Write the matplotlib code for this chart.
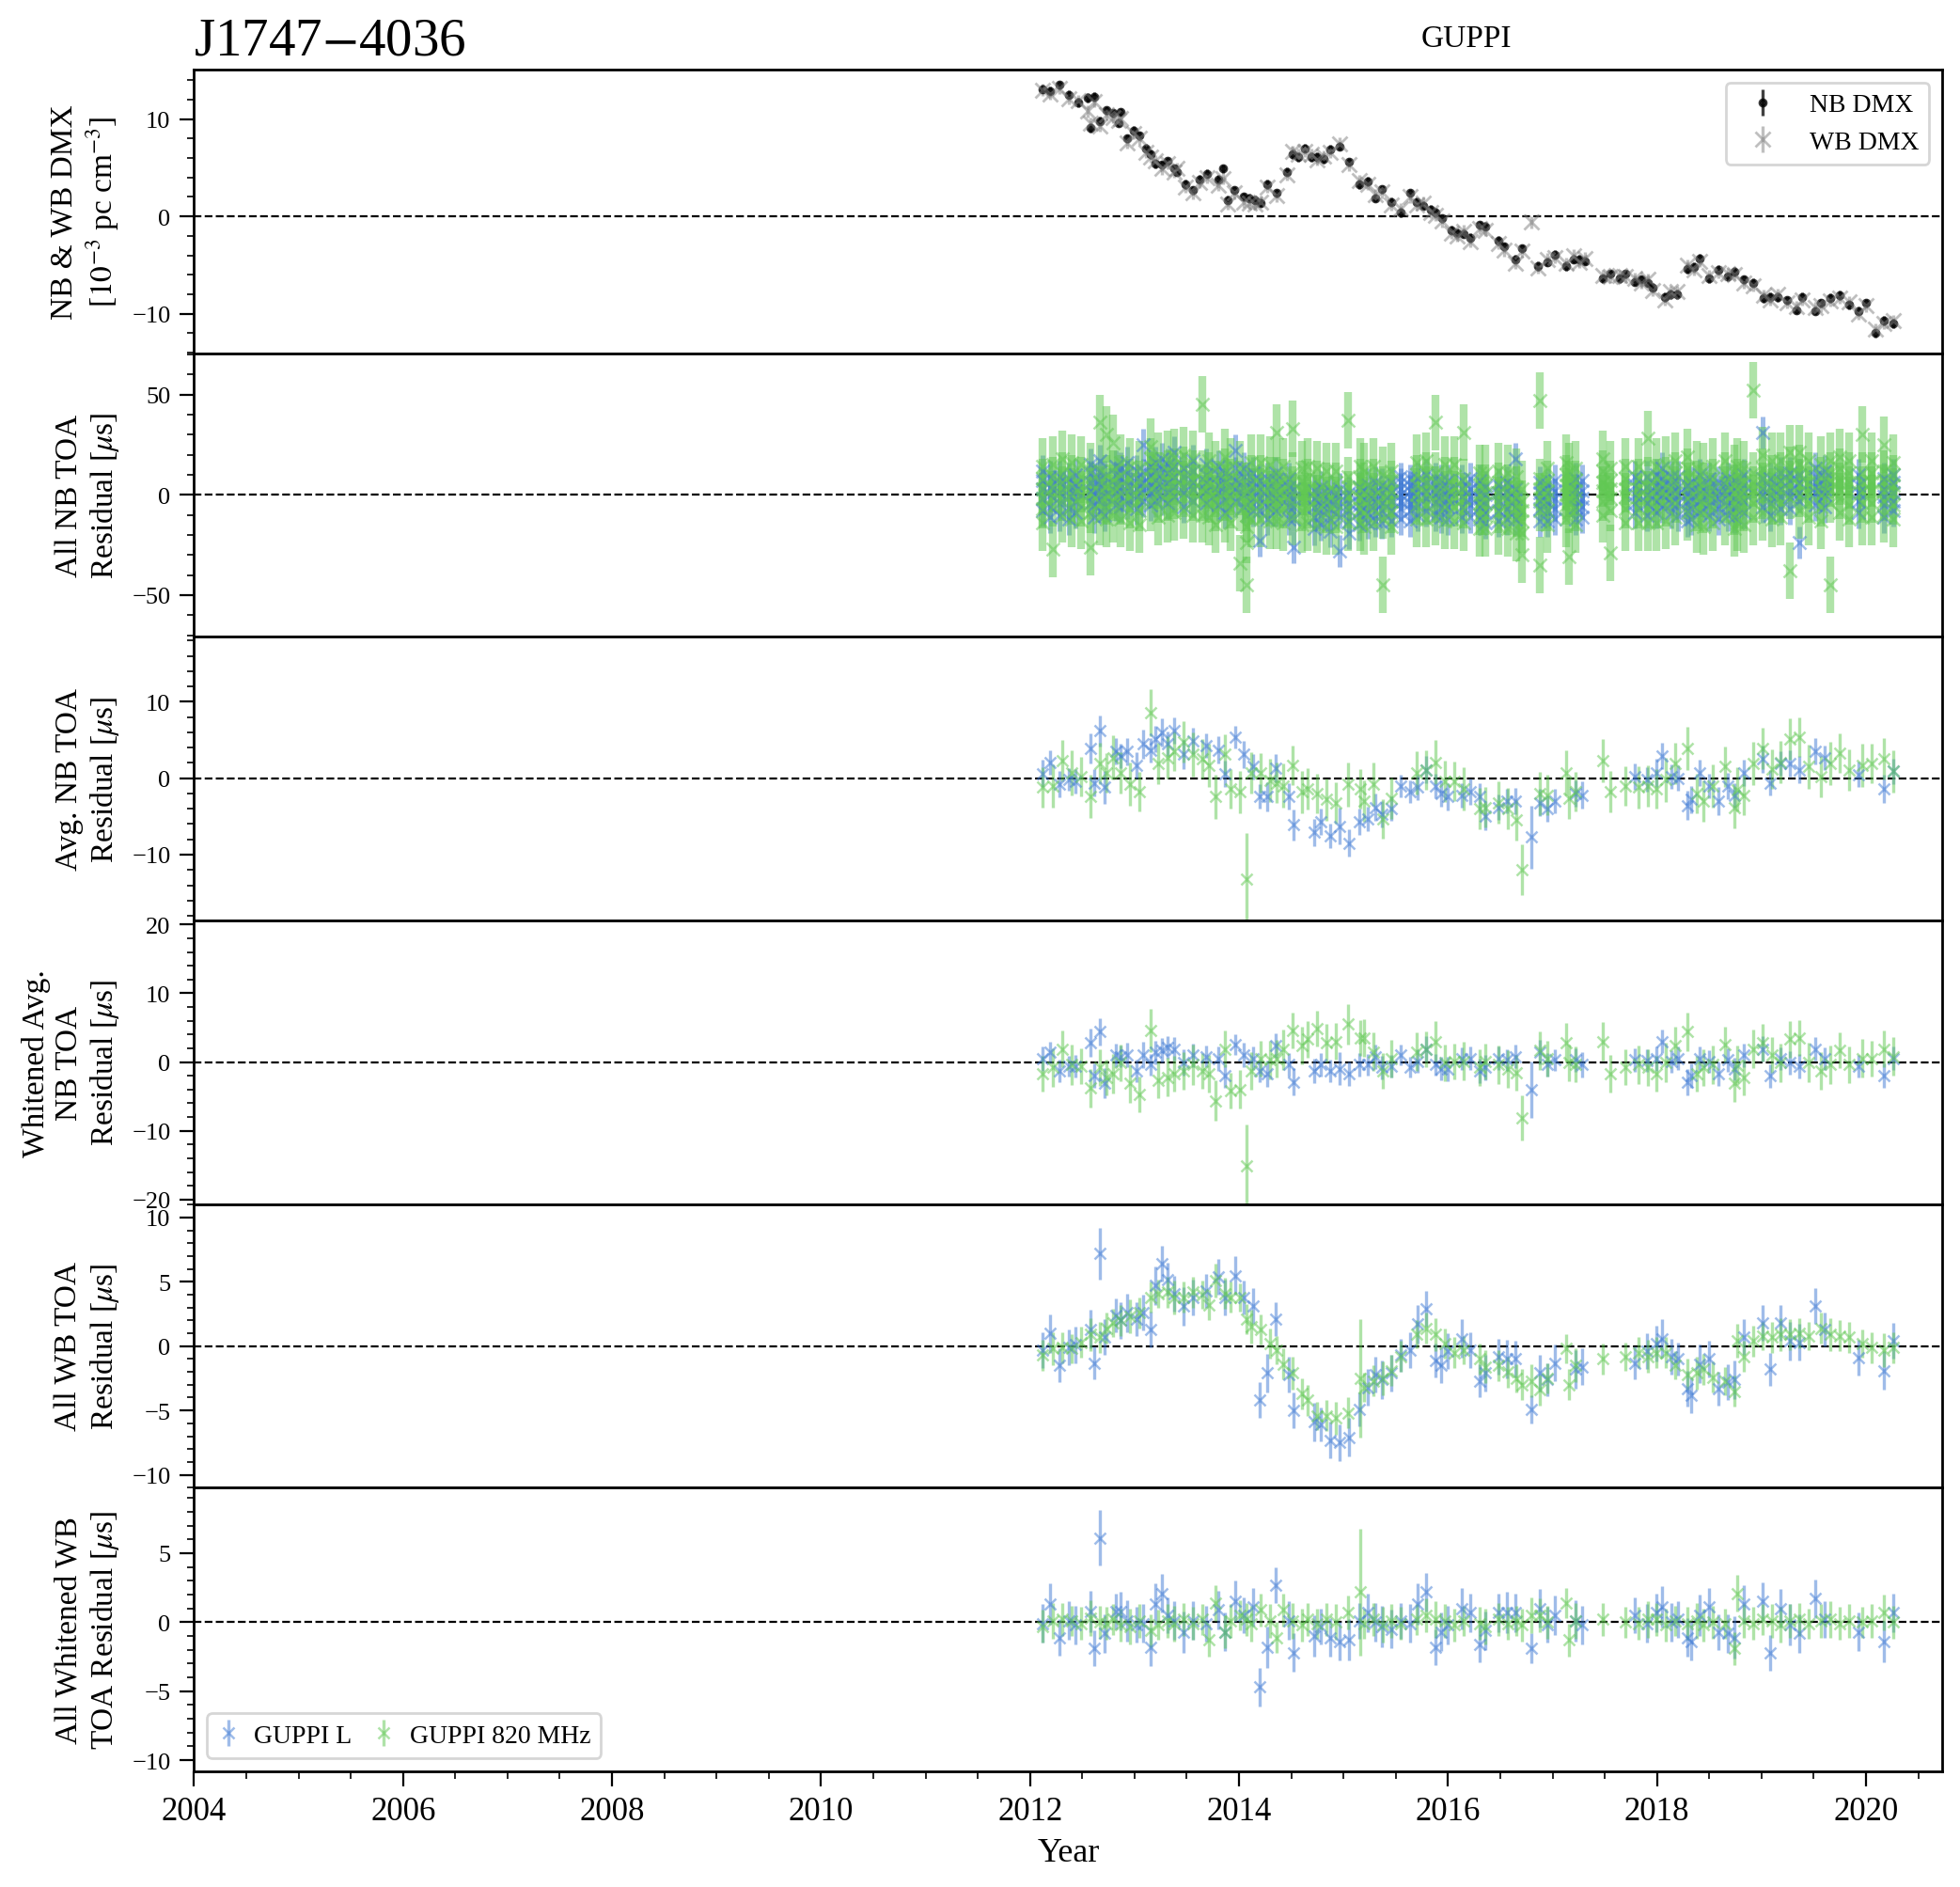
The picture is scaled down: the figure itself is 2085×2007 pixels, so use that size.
import numpy as np
import matplotlib
matplotlib.use("Agg")
import matplotlib.pyplot as plt
from matplotlib.ticker import AutoMinorLocator, MultipleLocator

plt.rcParams["font.family"] = ["Liberation Serif", "DejaVu Serif"]
plt.rcParams["mathtext.fontset"] = "stix"
plt.rcParams["axes.linewidth"] = 1.0

nan = np.nan
L_COLOR = "#407BD5"
R800_COLOR = "#61C853"

# ---------------- DMX (panel 1) ----------------
dmx_year = [
    2012.12, 2012.19, 2012.28, 2012.37, 2012.46, 2012.55, 2012.58, 2012.61, 2012.67, 2012.73,
    2012.79, 2012.85, 2012.87, 2012.93, 2012.99, 2013.05, 2013.11, 2013.15, 2013.20, 2013.26,
    2013.32, 2013.38, 2013.41, 2013.49, 2013.56, 2013.62, 2013.69, 2013.80, 2013.85, 2013.89,
    2013.95, 2014.04, 2014.10, 2014.15, 2014.21, 2014.27, 2014.36, 2014.46, 2014.51, 2014.57,
    2014.63, 2014.69, 2014.75, 2014.81, 2014.87, 2014.96, 2015.05, 2015.15, 2015.23, 2015.30,
    2015.37, 2015.46, 2015.55, 2015.64, 2015.70, 2015.76, 2015.83, 2015.88, 2015.94, 2016.03,
    2016.09, 2016.15, 2016.21, 2016.30, 2016.36, 2016.48, 2016.54, 2016.64, 2016.71, 2016.80,
    2016.86, 2016.95, 2017.02, 2017.13, 2017.20, 2017.26, 2017.31, 2017.48, 2017.55, 2017.64,
    2017.70, 2017.79, 2017.85, 2017.91, 2017.96, 2018.07, 2018.13, 2018.19, 2018.29, 2018.35,
    2018.41, 2018.50, 2018.59, 2018.68, 2018.74, 2018.83, 2018.92, 2019.02, 2019.08, 2019.15,
    2019.24, 2019.33, 2019.39, 2019.51, 2019.57, 2019.66, 2019.75, 2019.84, 2019.93, 2020.00,
    2020.09, 2020.17, 2020.26,
]
nb_dmx = [
    13.1, 12.9, 13.5, 12.5, 11.7, 12.2, 9.1, 12.3, 9.8, 10.9,
    10.6, 9.6, 10.7, 8.0, 8.8, 8.3, 7.0, 6.4, 5.4, 5.3,
    5.7, 4.9, 4.6, 3.3, 2.7, 3.8, 4.4, 3.8, 4.9, 1.7,
    2.7, 2.0, 1.9, 1.7, 1.4, 3.3, 2.4, 4.6, 6.4, 6.1,
    7.0, 6.1, 6.1, 5.9, 6.9, 7.2, 5.6, 3.3, 3.6, 1.9,
    2.8, 1.5, 0.4, 2.4, 1.5, 1.1, 0.7, 0.4, -0.2, -1.4,
    -1.7, -1.8, -2.2, -0.9, -1.0, -2.5, -3.1, -4.4, -3.3, nan,
    -5.1, -4.7, -3.9, -5.1, -4.4, -4.4, -4.6, -6.4, -5.9, -6.4,
    -5.9, -6.7, -6.5, -6.8, -7.3, -8.3, -8.0, -8.0, -5.4, -5.2,
    -4.3, -6.4, -5.5, -6.2, -5.7, -6.5, -6.8, -8.4, -8.3, -8.3,
    -8.6, -9.6, -8.3, -9.7, -8.9, -8.4, -8.1, -9.1, -9.7, -8.9,
    -12.0, -10.7, -11.0,
]
wb_dmx = [
    13.0, 12.6, 13.2, 12.1, 11.9, 10.8, 9.6, 11.8, 9.3, 10.5,
    10.2, 9.9, 10.1, 7.6, 8.5, 8.0, 6.6, 6.1, 5.7, 4.9,
    5.4, 4.6, 4.9, 3.0, 2.4, 3.5, 4.0, 3.2, 3.9, 1.3,
    2.4, 1.5, 1.4, 1.3, 1.5, 3.0, 2.1, 4.3, 6.7, 6.4,
    6.7, 6.4, 5.8, 6.2, 6.6, 7.5, 5.3, 3.7, 3.3, 2.2,
    2.5, 1.2, 0.8, 2.0, 1.2, 1.4, 0.4, 0.1, -0.5, -1.7,
    -2.0, -1.5, -2.6, -1.2, -1.4, -2.8, -3.5, -4.8, -3.6, -0.6,
    -5.3, -4.4, -4.2, -4.8, -4.0, -4.7, -4.3, -6.1, -6.2, -6.1,
    -6.2, -6.4, -6.8, -6.5, -7.6, -8.6, -7.7, -7.7, -5.0, -5.5,
    -4.6, -6.1, -5.8, -5.9, -6.0, -6.8, -7.1, -8.1, -8.6, -8.0,
    -8.9, -9.3, -8.6, -9.4, -9.2, -8.7, -8.4, -8.8, -10.0, -9.2,
    -11.6, -11.0, -10.7,
]
nb_dmx_err = 0.45
wb_dmx_err = 0.6

# ---------------- GUPPI L epochs ----------------
L_year = [
    2012.12, 2012.19, 2012.28, 2012.37, 2012.43, 2012.58, 2012.61, 2012.67, 2012.71, 2012.82,
    2012.87, 2012.93, 2013.02, 2013.08, 2013.15, 2013.20, 2013.26, 2013.32, 2013.38, 2013.47,
    2013.56, 2013.68, 2013.80, 2013.86, 2013.96, 2014.04, 2014.13, 2014.20, 2014.27, 2014.35,
    2014.48, 2014.52, 2014.72, 2014.78, 2014.87, 2014.96, 2015.05, 2015.15, 2015.23, 2015.30,
    2015.37, 2015.46, 2015.55, 2015.64, 2015.71, 2015.79, 2015.88, 2015.93, 2016.00, 2016.13,
    2016.21, 2016.30, 2016.36, 2016.48, 2016.56, 2016.64, 2016.80, 2016.88, 2016.95, 2017.02,
    2017.22, 2017.28, 2017.79, 2017.90, 2017.99, 2018.05, 2018.14, 2018.20, 2018.29, 2018.33,
    2018.41, 2018.50, 2018.59, 2018.68, 2018.74, 2018.83, 2019.01, 2019.08, 2019.18, 2019.27,
    2019.36, 2019.51, 2019.60, 2019.93, 2020.17, 2020.26,
]
L_avg = [
    0.6, 2.1, -0.8, -0.2, -0.4, 3.9, -0.6, 6.2, -1.2, 3.5,
    2.9, 3.5, 1.7, 4.5, 3.7, 5.1, 6.0, 4.5, 6.2, 3.1,
    4.9, 4.3, 3.7, 0.6, 5.4, 3.1, 1.5, -2.4, -2.4, 1.3,
    -2.4, -6.1, -7.1, -5.7, -7.5, -6.3, -8.5, -5.7, -5.3, -3.8,
    -4.7, -4.0, -1.0, -1.8, -1.2, 1.1, -1.0, -2.0, -2.4, -2.2,
    -1.8, -2.4, -4.9, -3.8, -3.0, -3.0, -7.7, -3.2, -4.0, -3.0,
    -2.0, -2.2, 0.2, -0.2, 0.7, 2.9, 0.2, 0.0, -3.6, -2.8,
    0.7, -1.0, -3.0, -1.0, -2.2, 0.7, 2.5, -0.6, 1.9, 1.9,
    1.1, 3.5, 2.7, 0.5, -1.4, 0.9,
]
L_avg_white = [
    0.5, 1.4, -1.3, -0.6, -0.6, 2.8, -2.0, 4.4, -3.1, 1.0,
    0.8, 1.0, -1.3, 1.0, -0.4, 1.4, 1.7, 2.1, 1.9, -0.1,
    1.0, 0.8, 0.5, -2.0, 2.6, 1.0, 0.5, -1.3, -1.7, 2.4,
    -0.4, -2.9, -1.3, -0.4, -1.3, -1.0, -1.7, -0.4, -0.4, 0.8,
    -0.8, -0.6, 1.0, -0.8, 0.1, 1.9, -0.4, -1.0, -1.0, 0.5,
    0.5, -1.3, -0.8, 0.5, 0.3, 0.8, -4.0, 1.4, -0.4, 0.3,
    0.3, -0.4, 0.3, 0.2, 0.5, 3.0, 0.1, 0.5, -2.9, -2.0,
    0.5, 0.1, -1.7, 0.3, -1.0, 1.0, 1.9, -2.0, 0.5, -0.1,
    -0.6, 1.9, 0.5, -0.6, -2.0, 0.5,
]
L_avg_err = [
    1.8, 1.6, 1.7, 1.5, 1.6, 2.0, 1.8, 2.0, 2.2, 1.7,
    1.6, 1.8, 1.7, 1.9, 1.6, 1.7, 1.8, 1.6, 1.7, 1.9,
    1.7, 1.6, 1.8, 1.7, 1.5, 1.8, 1.7, 1.6, 1.9, 1.8,
    1.7, 2.0, 1.8, 1.7, 1.6, 2.4, 1.8, 1.7, 1.6, 1.8,
    1.7, 1.6, 1.5, 1.5, 1.7, 1.8, 1.6, 1.7, 1.8, 1.6,
    1.7, 1.8, 1.9, 1.7, 1.6, 1.7, 4.1, 1.8, 1.7, 1.6,
    1.7, 1.8, 1.7, 1.6, 1.8, 1.7, 1.6, 1.7, 1.9, 1.8,
    1.7, 1.6, 1.8, 1.7, 1.6, 1.7, 1.8, 1.7, 1.6, 1.7,
    1.8, 1.7, 1.6, 1.7, 1.8, 1.7,
]
L_wb = [
    -0.3, 1.0, -1.5, -0.1, 0.1, 1.3, -1.3, 7.2, 0.7, 2.4,
    2.0, 2.6, 2.1, 2.6, 1.3, 4.7, 6.4, 5.2, 4.1, 3.1,
    3.8, 4.3, 5.4, 3.8, 5.5, 3.8, 3.1, -4.2, -2.1, 2.1,
    -2.2, -5.0, -5.9, -6.1, -7.3, -7.5, -7.1, -4.9, -3.2, -2.2,
    -2.6, -2.1, -0.7, -0.3, 1.7, 2.9, -1.1, -1.5, -0.4, 0.6,
    -0.3, -2.7, -2.1, -0.8, -1.0, -1.0, -4.9, -2.1, -2.6, -1.3,
    -1.8, -1.6, -1.3, -0.4, 0.2, 0.6, -0.8, -1.0, -3.3, -3.8,
    -1.4, -1.0, -3.3, -2.8, -2.6, 0.7, 1.8, -1.8, 1.8, 0.4,
    0.3, 3.1, 1.3, -0.9, -1.9, 0.4,
]
L_wb_white = [
    -0.1, 1.3, -1.1, 0.1, -0.2, 0.8, -1.9, 6.1, -0.8, 0.8,
    0.8, 0.1, -0.2, -0.1, -1.8, 1.3, 2.1, 0.5, 0.1, -0.7,
    0.1, -0.1, 0.9, -0.7, 1.5, 0.5, 1.1, -4.7, -1.8, 2.7,
    0.1, -2.2, -1.0, -0.3, -1.1, -1.4, -1.3, 0.1, 0.7, 0.0,
    -0.3, -0.5, 0.1, -0.1, 1.3, 2.2, -1.8, -0.7, -0.2, 1.0,
    0.7, -1.6, -0.6, 0.7, 0.7, 0.7, -1.9, 1.0, -0.2, 0.5,
    0.1, -0.2, 0.5, -0.1, 0.7, 1.1, 0.0, 0.2, -1.1, -1.4,
    0.5, 1.1, -0.7, -0.8, -1.1, 1.3, 1.5, -2.2, 1.0, -0.2,
    -0.8, 1.7, 0.2, -0.7, -1.4, 0.7,
]
L_wb_err = [
    1.4, 1.5, 1.3, 1.4, 1.4, 1.5, 1.3, 2.0, 1.4, 1.3,
    1.4, 1.5, 1.3, 1.4, 1.4, 1.5, 1.4, 1.3, 1.4, 1.5,
    1.4, 1.3, 1.4, 1.4, 1.5, 1.3, 1.4, 1.4, 1.5, 1.3,
    1.4, 1.4, 1.5, 1.3, 1.4, 1.4, 1.5, 1.3, 1.4, 1.4,
    1.5, 1.4, 1.3, 1.4, 1.5, 1.4, 1.3, 1.4, 1.4, 1.5,
    1.4, 1.3, 1.4, 1.4, 1.5, 1.4, 1.1, 1.4, 1.3, 1.4,
    1.5, 1.4, 1.3, 1.4, 1.4, 1.5, 1.4, 1.3, 1.4, 1.4,
    1.5, 1.4, 1.3, 1.4, 1.5, 1.4, 1.4, 1.3, 1.4, 1.5,
    1.4, 1.4, 1.3, 1.4, 1.5, 1.4,
]
# narrowband TOA residuals per L epoch (one list per epoch)
L_nb_res = [
    [-8, -2, 3, 7, 12], [-11, -6, 0, 4, 9], [-10, -4, 1, 6, 9], [-12, -7, -1, 3, 8], [-9, -3, 2, 5, 10],
    [-4, 2, 6, 11, 15], [-11, -5, 0, 4, 8], [-2, 4, 8, 12, 17], [-10, -6, -1, 3, 9], [-5, 1, 5, 10, 14],
    [-6, 0, 4, 9, 13], [-4, 2, 5, 11, 16], [-7, -1, 3, 8, 12], [-3, 3, 6, 12, 25], [-5, 1, 5, 10, 14],
    [-3, 3, 7, 12, 16], [-2, 4, 8, 13, 18], [-4, 2, 6, 11, 15], [-1, 4, 9, 14, 21], [-6, 1, 4, 9, 13],
    [-3, 3, 6, 12, 17], [-4, 2, 6, 10, 15], [-5, 1, 5, 10, 14], [-9, -3, 2, 6, 11], [-3, 3, 7, 13, 22],
    [-6, 0, 4, 9, 13], [-8, -2, 3, 7, 11], [-23, -8, -2, 3, 7], [-12, -6, -1, 3, 8], [-8, -2, 2, 7, 11],
    [-12, -6, -1, 4, 8], [-26, -12, -6, -2, 3], [-17, -11, -6, -2, 2], [-15, -10, -5, 0, 4], [-18, -12, -7, -3, 2],
    [-28, -11, -6, -1, 3], [-19, -13, -8, -4, 1], [-15, -9, -5, 0, 4], [-14, -9, -4, 0, 5], [-13, -8, -3, 1, 6],
    [-14, -8, -4, 1, 5], [-13, -8, -3, 1, 6], [-12, -7, -3, 0, 3, 6, 9], [-13, -8, -4, -1, 2, 5, 8], [-10, -5, -1, 3, 8],
    [-8, -2, 2, 6, 10], [-10, -4, 0, 4, 8], [-11, -6, -1, 3, 7], [-12, -6, -2, 2, 7], [-11, -6, -1, 3, 7],
    [-11, -5, -1, 3, 8], [-12, -6, -2, 2, 7], [-14, -9, -4, 0, 4], [-13, -8, -3, 1, 5], [-12, -7, -2, 2, 6],
    [-12, -6, -2, 3, 18], [], [-13, -7, -3, 1, 6], [-13, -8, -4, 1, 5], [-12, -7, -2, 2, 7],
    [-12, -6, -1, 3, 8], [-11, -6, -2, 2, 7], [-9, -4, 0, 5, 9], [-10, -4, 0, 4, 9], [-9, -3, 1, 5, 10],
    [-6, 0, 4, 8, 13], [-9, -4, 1, 5, 9], [-10, -4, 0, 4, 9], [-13, -8, -3, 1, 5], [-12, -7, -2, 2, 6],
    [-9, -3, 1, 5, 10], [-10, -5, 0, 4, 8], [-12, -7, -2, 2, 6], [-10, -5, 0, 4, 8], [-11, -6, -2, 3, 7],
    [-9, -3, 1, 5, 10], [-6, 0, 3, 8, 31], [-10, -4, 0, 4, 8], [-7, -1, 3, 7, 11], [-7, -1, 2, 7, 11],
    [-24, -3, 1, 6, 10], [-5, 1, 4, 9, 13], [-6, 0, 3, 8, 12], [-9, -3, 1, 5, 10], [-11, -5, -1, 3, 8],
    [-8, -3, 1, 6, 10],
]
L_nb_chan_err = [8, 6, 5, 6, 8, 7, 7]

# ---------------- GUPPI 820 MHz epochs ----------------
R800_year = [
    2012.12, 2012.22, 2012.31, 2012.40, 2012.49, 2012.58, 2012.67, 2012.73, 2012.79, 2012.87,
    2012.96, 2013.05, 2013.15, 2013.23, 2013.32, 2013.38, 2013.47, 2013.56, 2013.65, 2013.71,
    2013.77, 2013.86, 2013.92, 2014.01, 2014.07, 2014.12, 2014.21, 2014.30, 2014.36, 2014.42,
    2014.51, 2014.60, 2014.66, 2014.75, 2014.84, 2014.93, 2015.04, 2015.16, 2015.20, 2015.29,
    2015.38, 2015.46, 2015.55, 2015.70, 2015.79, 2015.88, 2015.97, 2016.06, 2016.15, 2016.30,
    2016.36, 2016.48, 2016.57, 2016.65, 2016.71, 2016.80, 2016.88, 2016.95, 2017.13, 2017.16,
    2017.22, 2017.48, 2017.55, 2017.70, 2017.82, 2017.91, 2017.99, 2018.08, 2018.17, 2018.29,
    2018.38, 2018.44, 2018.53, 2018.65, 2018.74, 2018.77, 2018.83, 2018.92, 2019.01, 2019.10,
    2019.18, 2019.27, 2019.36, 2019.45, 2019.57, 2019.66, 2019.75, 2019.84, 2019.96, 2020.05,
    2020.17, 2020.26,
]
R800_avg = [
    -1.2, -1.0, 2.3, 0.7, 0.2, -2.4, 1.9, 0.7, 2.7, 0.7,
    -0.8, -1.8, 8.6, 1.9, 2.7, 3.5, 4.7, 3.1, 2.5, 1.7,
    -2.4, 3.1, -1.4, -1.8, -13.2, 0.7, 0.7, -0.3, -0.6, -1.0,
    1.7, -1.8, -1.4, -2.0, -2.8, -3.2, -0.8, -1.4, -3.0, -0.8,
    -5.3, -2.6, nan, 0.7, 1.1, 2.1, -0.4, -0.4, -1.4, -4.0,
    -3.8, -3.2, -4.0, -5.5, -12.0, nan, -2.0, -2.2, 0.7, -2.6,
    -1.8, 2.3, -1.8, -1.0, -1.2, -1.0, -1.4, -0.2, 1.9, 3.9,
    -2.0, -3.0, -1.0, 1.5, -3.8, -1.5, -2.2, 1.9, 3.9, 1.2,
    2.1, 5.1, 5.4, 1.5, 0.2, 1.9, 3.3, 1.1, 1.7, 1.9,
    2.5, 0.9,
]
R800_avg_white = [
    -1.7, -0.8, 1.9, -0.4, -0.6, -3.8, -0.8, -2.2, -1.7, -0.1,
    -3.1, -4.7, 4.6, -2.6, -2.2, -1.7, -1.3, -0.4, -1.3, -1.7,
    -5.6, 1.9, -4.2, -4.0, -15.1, -1.3, 0.5, 0.3, 0.5, 1.8,
    4.6, 2.4, 3.3, 4.8, 2.8, 3.0, 5.5, 3.5, 3.5, 1.5,
    -1.3, 0.5, nan, 1.5, 1.9, 3.0, -0.1, 0.1, 0.1, -0.8,
    0.1, -0.4, -1.0, -1.5, -8.1, nan, 1.7, 0.5, 2.8, -0.1,
    -0.4, 3.0, -1.7, -0.8, -0.4, -0.8, -1.7, -0.1, 2.4, 4.4,
    -1.7, -0.8, -0.4, 2.6, -3.1, -0.5, -2.2, 1.9, 2.8, 1.0,
    -0.1, 3.3, 3.5, -0.1, -1.3, -0.4, 1.7, -0.4, 0.5, 0.5,
    1.9, 0.8,
]
R800_avg_err = [
    2.6, 2.8, 2.7, 2.9, 2.6, 2.8, 2.7, 2.6, 2.9, 2.7,
    2.8, 2.6, 3.1, 2.7, 2.8, 2.6, 2.7, 2.9, 2.6, 2.8,
    2.9, 2.7, 2.6, 2.8, 6.0, 2.7, 2.6, 2.8, 2.7, 2.9,
    2.6, 2.8, 2.7, 2.6, 2.8, 2.7, 2.9, 2.6, 2.7, 2.8,
    2.6, 2.7, 2.7, 2.8, 2.6, 2.9, 2.7, 2.6, 2.8, 2.7,
    2.6, 2.8, 2.7, 2.6, 3.3, 2.7, 2.8, 2.6, 2.9, 2.7,
    2.6, 2.8, 2.7, 2.6, 2.8, 2.7, 2.6, 2.9, 2.7, 2.8,
    2.6, 2.7, 2.8, 2.6, 2.7, 2.9, 2.6, 2.8, 2.7, 2.6,
    2.8, 2.7, 2.6, 2.9, 2.7, 2.8, 2.6, 2.7, 2.8, 2.6,
    2.7, 2.8,
]
R800_wb = [
    -0.7, -0.2, -0.1, -0.2, 0.3, 0.9, 0.7, 1.4, 1.8, 2.0,
    2.3, 2.6, 3.8, 4.1, 4.2, 3.8, 3.8, 4.2, 4.0, 3.2,
    5.1, 4.1, 3.8, 3.8, 2.1, 1.5, 1.3, 0.2, -0.3, -1.4,
    -2.1, -3.7, -4.2, -5.4, -5.4, -5.6, -5.2, -2.5, -3.2, -2.7,
    -2.5, -1.9, -0.8, 0.9, 1.4, 0.9, 0.2, -0.5, -0.3, -1.0,
    -1.6, -1.5, -2.0, -2.5, -3.0, -2.7, -3.4, -2.5, -0.2, -3.0,
    -1.5, -1.0, nan, -0.8, -0.5, -0.8, -0.5, -0.5, -1.5, -2.2,
    -2.1, -1.8, -2.4, -2.7, -3.5, 0.4, -0.8, 0.4, 0.8, 0.7,
    0.9, 0.9, 1.0, 0.8, 1.4, 0.9, 0.8, 0.7, 0.2, -0.1,
    -0.3, -0.1,
]
R800_wb_white = [
    -0.3, 0.1, 0.2, 0.1, -0.1, 0.3, 0.0, -0.1, 0.2, -0.2,
    -0.3, 0.1, -0.6, -0.2, 0.1, -0.1, 0.2, -0.1, 0.2, -1.3,
    1.4, -0.7, 0.1, 0.5, 0.2, -0.1, 0.9, 0.1, -1.1, 0.9,
    0.1, -0.2, 0.2, -0.1, 0.2, 0.0, 0.7, 2.2, -0.1, 0.2,
    -0.2, 0.1, -0.1, 0.2, 0.5, 0.2, 0.1, -0.2, 0.1, -0.1,
    -0.3, 0.2, -0.1, 0.1, -0.2, 0.5, 0.5, 0.0, 1.4, -1.3,
    0.1, 0.2, nan, 0.0, -0.1, 0.2, 0.2, -0.2, 0.1, -0.1,
    0.1, -0.2, 0.0, -0.1, -1.9, 2.1, 0.1, -0.1, 0.2, 0.1,
    -0.2, 0.1, 0.2, -0.1, 0.1, 0.2, -0.1, 0.1, 0.0, 0.1,
    0.7, 0.0,
]
R800_wb_err = [
    1.2, 1.3, 1.2, 1.1, 1.2, 1.3, 1.2, 1.2, 1.1, 1.2,
    1.3, 1.2, 1.2, 1.1, 1.2, 1.3, 1.2, 1.2, 1.1, 1.2,
    1.3, 1.2, 1.2, 1.1, 1.2, 1.3, 1.2, 1.2, 1.1, 1.2,
    1.3, 1.2, 1.2, 1.1, 1.2, 1.3, 1.2, 4.6, 1.1, 1.2,
    1.3, 1.2, 1.2, 1.1, 1.2, 1.3, 1.2, 1.2, 1.1, 1.2,
    1.3, 1.2, 1.2, 1.1, 1.2, 1.3, 1.2, 1.2, 1.1, 1.2,
    1.3, 1.2, 1.2, 1.1, 1.2, 1.3, 1.2, 1.2, 1.1, 1.2,
    1.3, 1.2, 1.2, 1.1, 1.2, 1.3, 1.2, 1.2, 1.1, 1.2,
    1.3, 1.2, 1.2, 1.1, 1.2, 1.3, 1.2, 1.2, 1.1, 1.2,
    1.3, 1.2,
]
R800_nb_res = [
    [-14, -7, -2, 3, 8, 14], [-27, -6, -1, 4, 9, 15], [-10, -3, 2, 6, 11, 18], [-12, -5, 0, 5, 10, 16], [-13, -6, -1, 4, 9, 15],
    [-26, -9, -4, 1, 6, 12], [-11, -4, 1, 6, 12, 36], [-12, -5, 0, 5, 10, 30], [-10, -3, 2, 7, 12, 26], [-12, -5, 1, 5, 10, 16],
    [-14, -7, -1, 3, 8, 14], [-15, -8, -2, 2, 7, 13], [-4, 3, 8, 13, 18, 24], [-11, -4, 1, 6, 11, 17], [-10, -3, 2, 7, 12, 18],
    [-9, -2, 3, 8, 13, 19], [-8, -1, 4, 9, 14, 20], [-10, -3, 3, 7, 12, 18], [-10, -3, 2, 7, 12, 45], [-11, -4, 1, 6, 11, 17],
    [-15, -8, -3, 2, 7, 13], [-10, -3, 2, 7, 13, 19], [-14, -7, -2, 3, 8, 14], [-34, -8, -2, 2, 7, 13], [-45, -24, -16, -10, -4, 2],
    [-12, -5, 0, 5, 10, 16], [-12, -5, 1, 5, 10, 16], [-13, -6, -1, 4, 9, 15], [-13, -6, -1, 4, 9, 31], [-14, -7, -1, 3, 8, 14],
    [-11, -4, 1, 6, 11, 33], [-15, -8, -2, 2, 7, 13], [-14, -7, -2, 3, 8, 14], [-15, -8, -2, 2, 7, 13], [-16, -9, -3, 1, 6, 12],
    [-16, -9, -4, 1, 6, 12], [-14, -7, -1, 4, 9, 37], [-14, -7, -2, 3, 8, 14], [-16, -9, -3, 1, 6, 12], [-14, -7, -1, 3, 8, 14],
    [-45, -12, -6, -1, 4, 10], [-16, -9, -3, 2, 7, 12], [], [-12, -5, 0, 5, 10, 16], [-12, -5, 1, 6, 11, 17],
    [-11, -4, 2, 6, 11, 36], [-13, -6, -1, 4, 9, 15], [-13, -6, 0, 4, 9, 15], [-14, -7, -2, 3, 8, 31], [-17, -10, -4, 0, 5, 11],
    [-17, -10, -4, 1, 5, 11], [-16, -9, -3, 1, 6, 12], [-17, -10, -4, 0, 5, 11], [-19, -11, -6, -1, 4, 9], [-30, -19, -13, -8, -3, 3],
    [], [-35, -8, -2, 3, 8, 47], [-15, -8, -2, 2, 7, 13], [-12, -5, 0, 5, 10, 16], [-31, -9, -3, 2, 7, 12],
    [-15, -8, -2, 2, 7, 13], [-10, -3, 2, 6, 12, 18], [-29, -8, -2, 3, 7, 13], [-14, -7, -1, 3, 8, 14], [-14, -7, -1, 3, 8, 14],
    [-14, -7, -1, 4, 9, 28], [-14, -7, -2, 3, 8, 14], [-13, -6, 0, 4, 9, 15], [-11, -4, 1, 6, 11, 17], [-9, -2, 4, 8, 13, 19],
    [-15, -8, -2, 2, 7, 13], [-16, -9, -3, 1, 6, 12], [-14, -7, -1, 3, 8, 14], [-11, -4, 1, 6, 11, 17], [-17, -10, -4, 1, 5, 11],
    [-14, -7, -1, 3, 8, 14], [-15, -8, -2, 2, 7, 13], [-11, -4, 2, 6, 11, 52], [-9, -2, 4, 8, 13, 20], [-12, -5, 1, 5, 10, 17],
    [-11, -4, 2, 6, 11, 17], [-38, -2, 5, 9, 14, 21], [-8, -1, 5, 10, 15, 21], [-11, -4, 1, 6, 11, 17], [-13, -6, 0, 4, 9, 15],
    [-45, -4, 2, 6, 11, 17], [-9, -2, 3, 8, 13, 19], [-12, -5, 1, 6, 11, 17], [-11, -4, 2, 6, 11, 30], [-11, -4, 2, 6, 11, 17],
    [-10, -3, 2, 7, 12, 25], [-12, -5, 1, 5, 10, 16],
]
R800_nb_chan_err = [14, 10, 8, 8, 10, 14]


def flatten(years, stacks, chan_err):
    x, y, e = [], [], []
    for yr, res in zip(years, stacks):
        for k, r in enumerate(res):
            x.append(yr)
            y.append(r)
            e.append(chan_err[k])
    return x, y, e


def resid(ax, x, y, err, color, label=None, lw=1.2, ms=4):
    ax.errorbar(x, y, yerr=err, fmt="x", color=color, alpha=0.5, ms=ms, mew=0.9,
                elinewidth=lw, capsize=0, label=label)


fig, axes = plt.subplots(6, 1, sharex=True, figsize=(10.425, 10.04), dpi=200)
fig.subplots_adjust(left=0.099, right=0.991, top=0.9627, bottom=0.0613, hspace=0)

for ax in axes:
    ax.axhline(0, color="k", ls="--", lw=0.8, zorder=0)

# panel 1: DMX
ax = axes[0]
ax.errorbar(dmx_year, nb_dmx, yerr=nb_dmx_err, fmt=".", color="k", alpha=0.75, ms=5,
            elinewidth=1.2, capsize=0, label="NB DMX")
ax.errorbar(dmx_year, wb_dmx, yerr=wb_dmx_err, fmt="x", color="gray", alpha=0.5, ms=5.5,
            mew=1.0, elinewidth=1.2, capsize=0, label="WB DMX")
ax.set_ylim(-14.05, 15.1)
ax.yaxis.set_major_locator(MultipleLocator(10))
ax.set_ylabel("NB & WB DMX\n[$10^{-3}$ pc cm$^{-3}$]", fontsize=12)
ax.legend(loc="upper right", fontsize=10)
ax.set_title("J1747$-$4036", loc="left", fontsize=20.5)

# panel 2: all NB TOAs (dense, so drawn with heavier bars)
ax = axes[1]
x, y, e = flatten(L_year, L_nb_res, L_nb_chan_err)
resid(ax, x, y, e, L_COLOR, lw=1.8, ms=5)
x, y, e = flatten(R800_year, R800_nb_res, R800_nb_chan_err)
resid(ax, x, y, e, R800_COLOR, lw=3.0, ms=5)
ax.set_ylim(-70.8, 70.6)
ax.yaxis.set_major_locator(MultipleLocator(50))
ax.set_ylabel("All NB TOA\nResidual [$\\mu$s]", fontsize=12)

# panel 3: averaged NB
ax = axes[2]
resid(ax, L_year, L_avg, L_avg_err, L_COLOR)
resid(ax, R800_year, R800_avg, R800_avg_err, R800_COLOR)
ax.set_ylim(-18.6, 18.5)
ax.yaxis.set_major_locator(MultipleLocator(10))
ax.set_ylabel("Avg. NB TOA\nResidual [$\\mu$s]", fontsize=12)

# panel 4: whitened averaged NB
ax = axes[3]
resid(ax, L_year, L_avg_white, L_avg_err, L_COLOR)
resid(ax, R800_year, R800_avg_white, R800_avg_err, R800_COLOR)
ax.set_ylim(-20.65, 20.6)
ax.yaxis.set_major_locator(MultipleLocator(10))
ax.set_ylabel("Whitened Avg.\nNB TOA\nResidual [$\\mu$s]", fontsize=12)

# panel 5: WB TOAs
ax = axes[4]
resid(ax, L_year, L_wb, L_wb_err, L_COLOR)
resid(ax, R800_year, R800_wb, R800_wb_err, R800_COLOR)
ax.set_ylim(-11.0, 11.05)
ax.yaxis.set_major_locator(MultipleLocator(5))
ax.set_ylabel("All WB TOA\nResidual [$\\mu$s]", fontsize=12)

# panel 6: whitened WB TOAs
ax = axes[5]
resid(ax, L_year, L_wb_white, L_wb_err, L_COLOR, label="GUPPI L")
resid(ax, R800_year, R800_wb_white, R800_wb_err, R800_COLOR, label="GUPPI 820 MHz")
ax.set_ylim(-10.8, 9.75)
ax.yaxis.set_major_locator(MultipleLocator(5))
ax.set_ylabel("All Whitened WB\nTOA Residual [$\\mu$s]", fontsize=12)
ax.legend(loc="lower left", ncol=2, fontsize=10, handlelength=0.8,
          handletextpad=0.6, columnspacing=0.8)

for ax in axes:
    ax.yaxis.set_minor_locator(AutoMinorLocator())
    ax.tick_params(axis="y", which="major", direction="out", length=5.5, width=0.8, labelsize=9.5)
    ax.tick_params(axis="y", which="minor", direction="out", length=2.6, width=0.6)
    ax.tick_params(axis="x", which="both", bottom=False, top=False)

axes[-1].set_xlim(2004, 2020.73)
axes[-1].xaxis.set_major_locator(MultipleLocator(2))
axes[-1].xaxis.set_minor_locator(AutoMinorLocator())
axes[-1].tick_params(axis="x", which="major", bottom=True, direction="out", length=5.8,
                     width=0.8, labelsize=12.5)
axes[-1].tick_params(axis="x", which="minor", bottom=True, direction="out", length=2.8, width=0.6)
axes[-1].set_xlabel("Year", fontsize=13)

fig.text(0.748, 0.975, "GUPPI", ha="center", va="baseline", fontsize=12)

fig.savefig("out.png", dpi=200)
